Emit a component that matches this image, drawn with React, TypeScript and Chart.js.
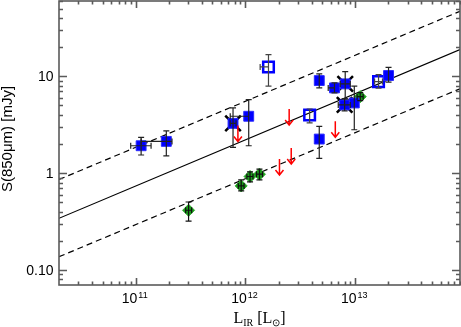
import React, { useEffect, useRef } from 'react';
import { Chart, registerables } from 'chart.js';
Chart.register(...registerables);

const X_MIN = 2e10;
const X_MAX = 9e13;
const Y_MIN = 0.07;
const Y_MAX = 60;

// relation and its scatter band
const fitX = [2e10, 9e13];
const fitY = [0.342, 18.9];
const fitUpperY = [0.86, 47];
const fitLowerY = [0.137, 7.45];

// filled blue squares
const filledX = [1.12e11, 1.9e11, 7.7e11, 1.07e12, 4.7e12, 6.47e12, 8.1e12, 8.0e12, 9.8e12, 2.01e13, 4.7e12];
const filledY = [1.92, 2.13, 3.27, 3.87, 9.04, 7.6, 8.36, 5.07, 5.31, 10.2, 2.25];
const filledYLo = [1.54, 1.51, 1.85, 1.92, 7.6, 6.74, 5.85, 4.39, 2.81, 8.7, 1.42];
const filledYHi = [2.34, 2.74, 4.72, 5.75, 10.6, 8.57, 11.2, 5.85, 7.91, 12.4, 3.05];
const filledXLo = [9.0e10, 1.12e11, 7.26e11, 7.26e11, null, 5.67e12, 7.3e12, 7.0e12, null, null, null];
const filledXHi = [1.38e11, 2.14e11, 8.2e11, null, null, null, 9.0e12, 9.0e12, null, null, null];

// crossed sources
const crossX = [7.7e11, 8.1e12, 8.0e12];
const crossY = [3.27, 8.36, 5.07];

// open blue squares
const openX = [1.62e12, 1.63e13, 3.84e12];
const openY = [12.5, 8.83, 3.99];
const openYLo = [7.91, 7.55, 3.3];
const openYHi = [16.8, 10.4, 4.6];
const openXLo = [1.36e12, 1.5e13, null];
const openXHi = [null, 1.77e13, null];

// green diamonds
const greenX = [3.03e11, 9.14e11, 1.1e12, 1.34e12, 1.11e13];
const greenY = [0.414, 0.739, 0.924, 0.976, 6.17];
const greenYLo = [0.32, 0.656, 0.813, 0.852, 5.61];
const greenYHi = [0.504, 0.853, 1.03, 1.1, 6.8];
const greenXLo = [2.85e11, 8.6e11, 1.03e12, 1.26e12, 1.04e13];
const greenXHi = [3.23e11, 9.7e11, 1.17e12, 1.43e12, 1.18e13];

// upper limits (red arrows)
const limitX = [8.53e11, 2.5e12, 6.58e12, 2.61e12, 2.04e12];
const limitY = [3.11, 4.6, 3.43, 1.82, 1.4];

// tick labels
const xTickValues = [1e11, 1e12, 1e13];
const xTickExp = ['11', '12', '13'];
const yTickValues = [0.1, 1, 10];
const yTickLabels = ['0.10', '1', '10'];

const pts = (xs: number[], ys: number[]) => xs.map((x, i) => ({ x, y: ys[i] }));

type Num = number | null;

const decor = {
  id: 'decor',
  afterDatasetsDraw(chart: any) {
    const ctx = chart.ctx as CanvasRenderingContext2D;
    const xs = chart.scales.x;
    const ys = chart.scales.y;
    const px = (v: number) => xs.getPixelForValue(v);
    const py = (v: number) => ys.getPixelForValue(v);
    const cap = 3;
    const bars = (X: number[], Y: number[], yl: Num[], yh: Num[], xl: Num[], xh: Num[], color: string) => {
      ctx.save();
      ctx.strokeStyle = color;
      ctx.lineWidth = 1.2;
      for (let i = 0; i < X.length; i++) {
        const cx = px(X[i]);
        const cy = py(Y[i]);
        ctx.beginPath();
        if (yl[i] != null) {
          const b = py(yl[i] as number);
          ctx.moveTo(cx, cy); ctx.lineTo(cx, b);
          ctx.moveTo(cx - cap, b); ctx.lineTo(cx + cap, b);
        }
        if (yh[i] != null) {
          const t = py(yh[i] as number);
          ctx.moveTo(cx, cy); ctx.lineTo(cx, t);
          ctx.moveTo(cx - cap, t); ctx.lineTo(cx + cap, t);
        }
        if (xl[i] != null) {
          const l = px(xl[i] as number);
          ctx.moveTo(cx, cy); ctx.lineTo(l, cy);
          ctx.moveTo(l, cy - cap); ctx.lineTo(l, cy + cap);
        }
        if (xh[i] != null) {
          const r = px(xh[i] as number);
          ctx.moveTo(cx, cy); ctx.lineTo(r, cy);
          ctx.moveTo(r, cy - cap); ctx.lineTo(r, cy + cap);
        }
        ctx.stroke();
      }
      ctx.restore();
    };
    bars(filledX, filledY, filledYLo, filledYHi, filledXLo, filledXHi, '#222');
    bars(openX, openY, openYLo, openYHi, openXLo, openXHi, '#444');
    bars(greenX, greenY, greenYLo, greenYHi, greenXLo, greenXHi, '#111');

    // arrows
    ctx.save();
    ctx.strokeStyle = '#ff0000';
    ctx.lineWidth = 1.5;
    for (let i = 0; i < limitX.length; i++) {
      const cx = px(limitX[i]);
      const t = py(limitY[i]);
      const b = t + 16;
      ctx.beginPath();
      ctx.moveTo(cx, t); ctx.lineTo(cx, b);
      ctx.moveTo(cx - 4, b - 5); ctx.lineTo(cx, b); ctx.lineTo(cx + 4, b - 5);
      ctx.stroke();
    }
    ctx.restore();
  },
  afterDraw(chart: any) {
    const ctx = chart.ctx as CanvasRenderingContext2D;
    const a = chart.chartArea;
    const xs = chart.scales.x;
    const ys = chart.scales.y;
    ctx.save();
    ctx.strokeStyle = '#5a5a5a';
    ctx.lineWidth = 1.6;
    ctx.strokeRect(a.left, a.top, a.right - a.left, a.bottom - a.top);
    ctx.beginPath();
    // x ticks
    for (let e = 10; e <= 13; e++) {
      for (let m = 1; m <= 9; m++) {
        const v = m * Math.pow(10, e);
        if (v < X_MIN * 1.001 || v > X_MAX) continue;
        const x = Math.round(xs.getPixelForValue(v)) + 0.5;
        const len = m === 1 ? 7 : 3.5;
        ctx.moveTo(x, a.bottom); ctx.lineTo(x, a.bottom - len);
        ctx.moveTo(x, a.top); ctx.lineTo(x, a.top + len);
      }
    }
    // y ticks
    for (let e = -2; e <= 1; e++) {
      for (let m = 1; m <= 9; m++) {
        const v = m * Math.pow(10, e);
        if (v < Y_MIN * 1.001 || v > Y_MAX) continue;
        const y = Math.round(ys.getPixelForValue(v)) + 0.5;
        const len = m === 1 ? 8 : 4;
        ctx.moveTo(a.left, y); ctx.lineTo(a.left + len, y);
        ctx.moveTo(a.right, y); ctx.lineTo(a.right - len, y);
      }
    }
    ctx.stroke();
    ctx.restore();

    ctx.save();
    ctx.fillStyle = '#000';
    // x tick labels
    ctx.textBaseline = 'alphabetic';
    ctx.textAlign = 'left';
    const base = '14px "Liberation Sans"';
    const sup = '9px "Liberation Sans"';
    xTickValues.forEach((v, i) => {
      const x = xs.getPixelForValue(v);
      ctx.font = base;
      const w1 = ctx.measureText('10').width;
      ctx.font = sup;
      const w2 = ctx.measureText(xTickExp[i]).width;
      const start = x - (w1 + w2 + 1) / 2 - 1;
      ctx.font = base;
      ctx.fillText('10', start, 303);
      ctx.font = sup;
      ctx.fillText(xTickExp[i], start + w1 + 1, 298);
    });
    // y tick labels
    ctx.font = base;
    ctx.textAlign = 'right';
    ctx.textBaseline = 'middle';
    yTickValues.forEach((v, i) => {
      ctx.fillText(yTickLabels[i], 53.5, ys.getPixelForValue(v) + 1);
    });
    // y title
    ctx.save();
    ctx.translate(8, (a.top + a.bottom) / 2 - 4);
    ctx.rotate(-Math.PI / 2);
    ctx.textAlign = 'center';
    ctx.textBaseline = 'middle';
    ctx.font = '15px "Liberation Sans"';
    ctx.fillText('S(850μm) [mJy]', 0, 0);
    ctx.restore();
    // x title: L_IR [L_sun]
    const big = '16px "Liberation Serif"';
    const small = '10px "Liberation Serif"';
    const parts: [string, string, number][] = [
      ['L', big, 0], ['IR', small, 3], [' [L', big, 0], ['⊙', small, 3], [']', big, 0],
    ];
    let total = 0;
    parts.forEach(([t, f]) => { ctx.font = f; total += ctx.measureText(t).width; });
    let cx = (a.left + a.right) / 2 - total / 2;
    ctx.textAlign = 'left';
    ctx.textBaseline = 'alphabetic';
    parts.forEach(([t, f, dy]) => {
      ctx.font = f;
      ctx.fillText(t, cx, 323 + dy);
      cx += ctx.measureText(t).width;
    });
    ctx.restore();
  },
};

export default function App() {
  const ref = useRef<HTMLCanvasElement | null>(null);
  useEffect(() => {
    if (!ref.current) return;
    const chart = new Chart(ref.current, {
      type: 'scatter',
      data: {
        datasets: [
          {
            type: 'scatter', data: pts(filledX, filledY), pointStyle: 'rect', pointRadius: 7,
            backgroundColor: '#0000ff', borderColor: '#2a2aff', borderWidth: 1, order: 2,
          } as any,
          {
            type: 'scatter', data: pts(openX, openY), pointStyle: 'rect', pointRadius: 7.5,
            backgroundColor: 'rgba(0,0,0,0)', borderColor: '#0000ff', borderWidth: 2.5, order: 2,
          } as any,
          {
            type: 'scatter', data: pts(greenX, greenY), pointStyle: 'rectRot', pointRadius: 6,
            backgroundColor: '#1a9a1a', borderColor: '#2db02d', borderWidth: 1, order: 2,
          } as any,
          {
            type: 'scatter', data: pts(crossX, crossY), pointStyle: 'crossRot', pointRadius: 11,
            backgroundColor: '#000', borderColor: '#000', borderWidth: 2.5, order: 5,
          } as any,
          {
            type: 'line', data: pts(fitX, fitY), borderColor: '#000', borderWidth: 1.2,
            pointRadius: 0, showLine: true, fill: false, order: 10,
          } as any,
          {
            type: 'line', data: pts(fitX, fitUpperY), borderColor: '#000', borderWidth: 1.2,
            borderDash: [6, 4], pointRadius: 0, showLine: true, fill: false, order: 10,
          } as any,
          {
            type: 'line', data: pts(fitX, fitLowerY), borderColor: '#000', borderWidth: 1.2,
            borderDash: [6, 4], pointRadius: 0, showLine: true, fill: false, order: 10,
          } as any,
        ],
      },
      options: {
        animation: false,
        responsive: false,
        events: [],
        layout: { autoPadding: false, padding: { top: 1, right: 1, left: 0, bottom: 0 } },
        plugins: { legend: { display: false }, tooltip: { enabled: false } },
        scales: {
          x: {
            type: 'logarithmic', min: X_MIN, max: X_MAX,
            ticks: { display: false }, grid: { display: false, drawTicks: false }, border: { display: false },
            afterFit: (s: any) => { s.height = 42; },
          },
          y: {
            type: 'logarithmic', min: Y_MIN, max: Y_MAX,
            ticks: { display: false }, grid: { display: false, drawTicks: false }, border: { display: false },
            afterFit: (s: any) => { s.width = 59; },
          },
        },
      } as any,
      plugins: [decor],
    });
    return () => chart.destroy();
  }, []);
  return (
    <div style={{ position: 'absolute', left: 0, top: 0, width: 461, height: 327, background: '#fff' }}>
      <canvas ref={ref} width={461} height={327} style={{ display: 'block', width: 461, height: 327 }} />
    </div>
  );
}
